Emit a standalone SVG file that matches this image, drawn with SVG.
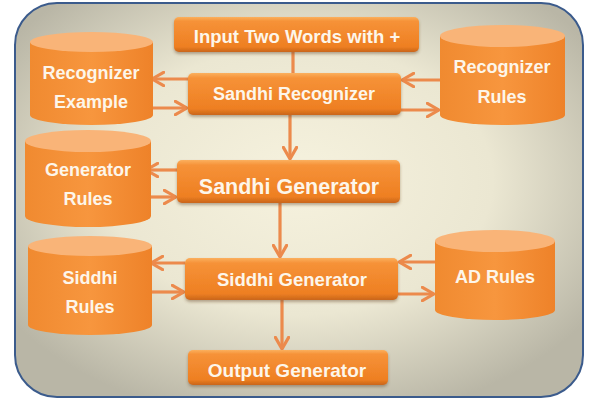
<svg xmlns="http://www.w3.org/2000/svg" width="592" height="403" viewBox="0 0 592 403">
<defs>
<radialGradient id="bg" cx="0.5" cy="0.45" r="0.62">
<stop offset="0" stop-color="#f6f2de"/>
<stop offset="0.55" stop-color="#ebe7d2"/>
<stop offset="1" stop-color="#b9b6a6"/>
</radialGradient>
<linearGradient id="box" x1="0" y1="0" x2="0" y2="1">
<stop offset="0" stop-color="#fbb05e"/>
<stop offset="0.12" stop-color="#f69238"/>
<stop offset="0.85" stop-color="#ee7f22"/>
<stop offset="1" stop-color="#c9651a"/>
</linearGradient>
<linearGradient id="cyl" x1="0" y1="0" x2="1" y2="0">
<stop offset="0" stop-color="#f08a30"/>
<stop offset="0.5" stop-color="#f7963e"/>
<stop offset="1" stop-color="#ee8229"/>
</linearGradient>
<filter id="sh" x="-10%" y="-10%" width="120%" height="130%">
<feDropShadow dx="0" dy="2" stdDeviation="1.5" flood-color="#6a4a2a" flood-opacity="0.45"/>
</filter>
<marker id="ah" viewBox="0 0 10 10" refX="8" refY="5" markerWidth="5.2" markerHeight="5.2" orient="auto" markerUnits="strokeWidth">
<path d="M1,1 L8,5 L1,9" fill="none" stroke="#ec8a4c" stroke-width="1.9" stroke-linecap="round" stroke-linejoin="round"/>
</marker>
<style>
.box{fill:url(#box);filter:url(#sh)}
.cb{fill:url(#cyl)}
.ct{fill:#f9b478}
.t{font-family:"Liberation Sans",Arial,sans-serif;font-weight:bold;fill:#fdf6ea;text-anchor:middle;dominant-baseline:central}
.c{stroke:#ec8a4c;stroke-width:3.2;fill:none}
.ca{stroke:#ec8a4c;stroke-width:3.2;fill:none;marker-end:url(#ah)}
</style>
</defs>
<rect x="15" y="3" width="568" height="394" rx="42" fill="url(#bg)" stroke="#3b5b8c" stroke-width="2"/>

<g id="connectors">
<line class="c" x1="293" y1="52" x2="293" y2="73"/>
<line class="ca" x1="290" y1="115" x2="290" y2="159"/>
<line class="ca" x1="188" y1="79" x2="152" y2="79"/>
<line class="ca" x1="153" y1="108" x2="187" y2="108"/>
<line class="ca" x1="440" y1="80" x2="402" y2="80"/>
<line class="ca" x1="401" y1="110" x2="439" y2="110"/>
<line class="ca" x1="177" y1="170" x2="146" y2="170"/>
<line class="ca" x1="150" y1="197" x2="176" y2="197"/>
<line class="ca" x1="280" y1="203" x2="280" y2="257"/>
<line class="ca" x1="185" y1="263" x2="151" y2="263"/>
<line class="ca" x1="152" y1="292" x2="184" y2="292"/>
<line class="ca" x1="435" y1="262" x2="399" y2="262"/>
<line class="ca" x1="398" y1="294" x2="434" y2="294"/>
<line class="ca" x1="282" y1="300" x2="282" y2="349"/>
</g>

<g id="input">
<rect class="box" x="174" y="17" width="245" height="35" rx="5"/>
<text class="t" x="297" y="36" font-size="18.5">Input Two Words with +</text>
</g>
<g id="sandhi-recognizer">
<rect class="box" x="188" y="73" width="213" height="42" rx="5"/>
<text class="t" x="294" y="94" font-size="18">Sandhi Recognizer</text>
</g>
<g id="sandhi-generator">
<rect class="box" x="177" y="160" width="223" height="43" rx="5"/>
<text class="t" x="289" y="187" font-size="21.5">Sandhi Generator</text>
</g>
<g id="siddhi-generator">
<rect class="box" x="185" y="258" width="213" height="42" rx="5"/>
<text class="t" x="292" y="279" font-size="18.5">Siddhi Generator</text>
</g>
<g id="output-generator">
<rect class="box" x="188" y="350" width="200" height="35" rx="5"/>
<text class="t" x="287" y="370" font-size="19">Output Generator</text>
</g>

<g id="recognizer-example">
<path class="cb" d="M30,42 L30,115 A61.5,10 0 0 0 153,115 L153,42 Z"/>
<ellipse class="ct" cx="91.5" cy="42" rx="61.5" ry="10"/>
<text class="t" x="91" y="73" font-size="18">Recognizer</text>
<text class="t" x="91" y="102" font-size="18">Example</text>
</g>
<g id="generator-rules">
<path class="cb" d="M25,141 L25,216 A63,11 0 0 0 151,216 L151,141 Z"/>
<ellipse class="ct" cx="88" cy="141" rx="63" ry="11"/>
<text class="t" x="88" y="170" font-size="18">Generator</text>
<text class="t" x="88" y="199" font-size="18">Rules</text>
</g>
<g id="siddhi-rules">
<path class="cb" d="M28,246 L28,325 A62,10 0 0 0 152,325 L152,246 Z"/>
<ellipse class="ct" cx="90" cy="246" rx="62" ry="10"/>
<text class="t" x="90" y="278" font-size="18">Siddhi</text>
<text class="t" x="90" y="307" font-size="18">Rules</text>
</g>
<g id="recognizer-rules">
<path class="cb" d="M440,36 L440,115 A62.5,10 0 0 0 565,115 L565,36 Z"/>
<ellipse class="ct" cx="502.5" cy="36" rx="62.5" ry="11"/>
<text class="t" x="502" y="67" font-size="18">Recognizer</text>
<text class="t" x="502" y="97" font-size="18">Rules</text>
</g>
<g id="ad-rules">
<path class="cb" d="M435,241 L435,310 A60,10 0 0 0 555,310 L555,241 Z"/>
<ellipse class="ct" cx="495" cy="241" rx="60" ry="11"/>
<text class="t" x="495" y="277" font-size="18">AD Rules</text>
</g>
</svg>
